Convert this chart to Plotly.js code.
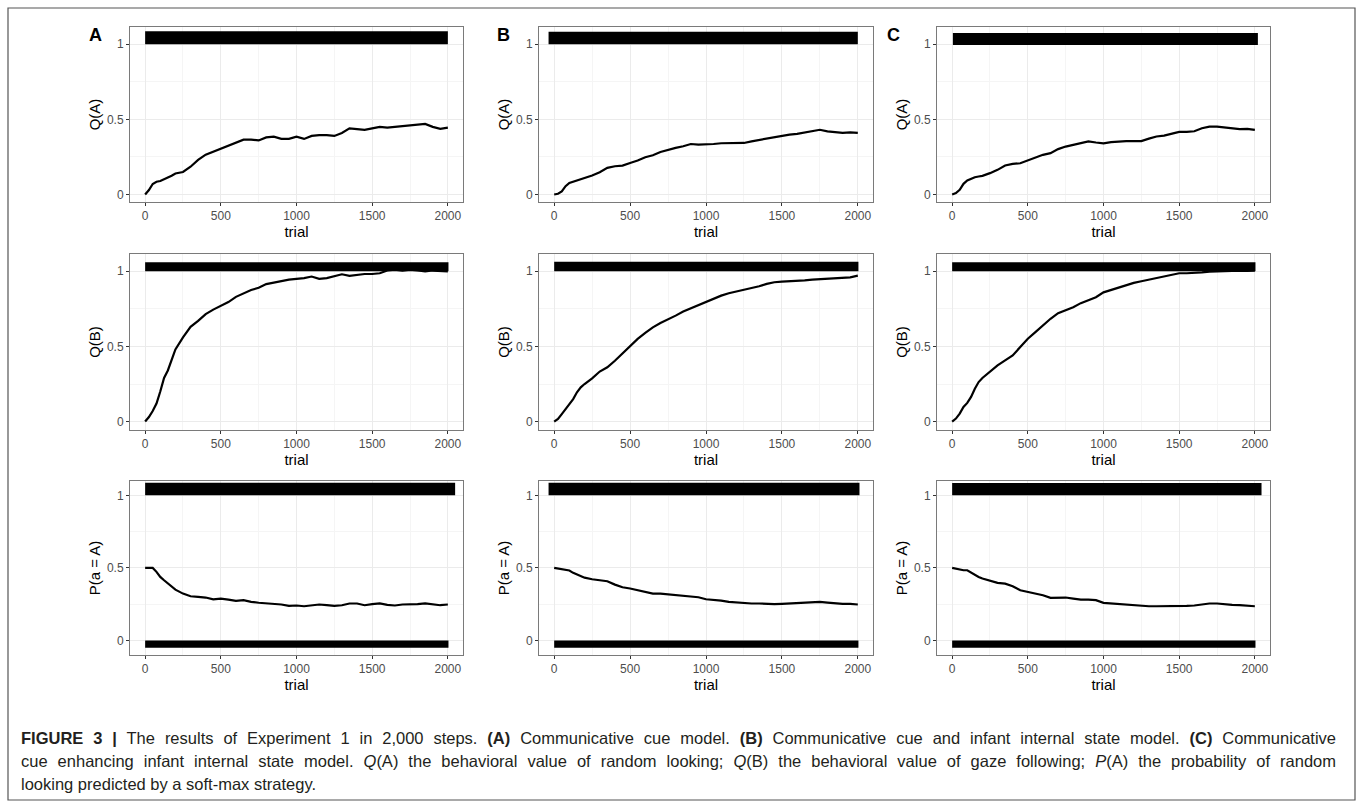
<!DOCTYPE html>
<html>
<head>
<meta charset="utf-8">
<script src="https://cdn.plot.ly/plotly-3.0.1.min.js"></script>
<style>html,body{margin:0;padding:0;background:#fff;}#chart{width:1357px;height:806px;}</style>
</head>
<body>
<div id="chart"></div>
<script>
// ---------------- DATA ----------------
const trials = [0,25,50,75,100,125,150,175,200,250,300,350,400,450,500,550,600,650,700,750,800,850,900,950,1000,1050,1100,1150,1200,1250,1300,1350,1400,1450,1500,1550,1600,1650,1700,1750,1800,1850,1900,1950,2000];

const xTickVals = [0,500,1000,1500,2000];
const panelLetters = ['A','B','C'];
const rowTitles = ['Q(A)','Q(B)','P(a = A)'];

// Model A (communicative cue model)
const qA_modelA = [0,0.03,0.07,0.085,0.09,0.1,0.11,0.125,0.14,0.15,0.185,0.23,0.265,0.285,0.31,0.33,0.35,0.365,0.365,0.36,0.38,0.385,0.37,0.37,0.385,0.37,0.39,0.395,0.395,0.39,0.41,0.44,0.435,0.43,0.44,0.45,0.445,0.45,0.455,0.46,0.468,0.47,0.45,0.437,0.445];
const qB_modelA = [0,0.03,0.07,0.12,0.2,0.29,0.34,0.41,0.48,0.56,0.63,0.67,0.715,0.745,0.77,0.795,0.83,0.855,0.875,0.89,0.915,0.925,0.935,0.945,0.95,0.955,0.965,0.95,0.955,0.965,0.98,0.97,0.978,0.982,0.982,0.987,1.005,1.01,1.005,1.01,1.005,1.0,1.005,1.0,1.0];
const pA_modelA = [0.5,0.5,0.5,0.473,0.438,0.415,0.392,0.37,0.35,0.323,0.305,0.3,0.296,0.284,0.289,0.282,0.273,0.278,0.266,0.26,0.255,0.255,0.248,0.238,0.241,0.236,0.243,0.248,0.243,0.238,0.243,0.255,0.255,0.243,0.25,0.255,0.245,0.241,0.248,0.248,0.25,0.255,0.248,0.243,0.248];

// Model B (communicative cue and infant internal state model)
const qA_modelB = [0,0.005,0.02,0.055,0.077,0.085,0.093,0.1,0.11,0.126,0.148,0.177,0.188,0.192,0.21,0.226,0.248,0.261,0.283,0.299,0.31,0.321,0.336,0.332,0.332,0.336,0.341,0.343,0.343,0.343,0.354,0.363,0.372,0.38,0.392,0.398,0.403,0.414,0.425,0.431,0.42,0.414,0.41,0.414,0.41];
const qB_modelB = [0,0.018,0.05,0.084,0.11,0.15,0.195,0.228,0.25,0.288,0.333,0.361,0.405,0.455,0.5,0.55,0.59,0.627,0.656,0.678,0.705,0.732,0.754,0.772,0.798,0.816,0.838,0.854,0.865,0.878,0.889,0.9,0.916,0.927,0.931,0.933,0.936,0.94,0.945,0.949,0.951,0.956,0.958,0.96,0.971];
const pA_modelB = [0.5,0.495,0.489,0.484,0.482,0.466,0.454,0.443,0.433,0.422,0.413,0.408,0.385,0.367,0.358,0.346,0.339,0.323,0.323,0.319,0.312,0.307,0.307,0.298,0.284,0.282,0.275,0.266,0.261,0.259,0.255,0.255,0.252,0.25,0.252,0.255,0.255,0.261,0.264,0.266,0.261,0.255,0.252,0.252,0.248];

// Model C (communicative cue enhancing infant internal state model)
const qA_modelC = [0,0.009,0.031,0.071,0.093,0.105,0.115,0.12,0.124,0.142,0.164,0.193,0.204,0.208,0.226,0.246,0.264,0.275,0.302,0.319,0.33,0.341,0.353,0.346,0.341,0.348,0.353,0.355,0.355,0.355,0.372,0.386,0.392,0.404,0.417,0.417,0.421,0.441,0.452,0.452,0.446,0.441,0.435,0.437,0.43];
const qB_modelC = [0,0.02,0.053,0.097,0.124,0.164,0.219,0.263,0.29,0.33,0.374,0.407,0.44,0.496,0.551,0.595,0.639,0.684,0.721,0.739,0.761,0.788,0.81,0.827,0.86,0.876,0.894,0.909,0.923,0.934,0.945,0.956,0.965,0.978,0.987,0.987,0.989,0.993,0.998,1.0,1.002,1.0,1.004,1.002,1.005];
const pA_modelC = [0.5,0.493,0.489,0.484,0.484,0.468,0.45,0.438,0.427,0.411,0.397,0.392,0.374,0.346,0.335,0.323,0.312,0.294,0.296,0.296,0.289,0.282,0.282,0.278,0.259,0.255,0.25,0.245,0.241,0.241,0.236,0.236,0.236,0.234,0.239,0.239,0.241,0.25,0.255,0.255,0.248,0.245,0.243,0.241,0.236];

// Dense per-trial outcome marks, drawn as solid bands: [first trial, last trial, low, high]
const marksQA_A = [0, 2000, 1.0, 1.087];
const marksQA_B = [-37, 2000, 1.0, 1.084];
const marksQA_C = [5, 2020, 0.995, 1.075];
const marksQB_A = [0, 2004, 1.0, 1.06];
const marksQB_B = [0, 2004, 1.0, 1.064];
const marksQB_C = [0, 2004, 1.0, 1.06];
const marksPtop_A = [0, 2048, 1.0, 1.087];
const marksPtop_B = [-37, 2011, 1.0, 1.087];
const marksPtop_C = [0, 2044, 1.0, 1.085];
const marksPbot_A = [0, 2004, -0.05, 0.0];
const marksPbot_B = [0, 2004, -0.05, 0.0];
const marksPbot_C = [0, 2004, -0.05, 0.0];

// ---------------- LAYOUT ----------------
const W = 1357, H = 806;
const colPx = [[130,463],[539,873],[937,1270]];
const rowPx = [[27,202],[254,430],[481,655]];
const yRanges = [[-0.05,1.115],[-0.056,1.115],[-0.1,1.099]];
const FONT = 'Liberation Sans, Arial, Helvetica, sans-serif';

const lines = [
  [qA_modelA, qA_modelB, qA_modelC],
  [qB_modelA, qB_modelB, qB_modelC],
  [pA_modelA, pA_modelB, pA_modelC]
];
const marks = [
  [[marksQA_A],[marksQA_B],[marksQA_C]],
  [[marksQB_A],[marksQB_B],[marksQB_C]],
  [[marksPtop_A, marksPbot_A],[marksPtop_B, marksPbot_B],[marksPtop_C, marksPbot_C]]
];

const traces = [];
const layout = {
  width: W, height: H,
  margin: {l:0, r:0, t:0, b:0},
  paper_bgcolor: '#ffffff',
  plot_bgcolor: '#ffffff',
  showlegend: false,
  font: {family: FONT, color: '#000'},
  annotations: [],
  shapes: []
};

for (let r = 0; r < 3; r++) {
  for (let c = 0; c < 3; c++) {
    const idx = r*3 + c + 1;
    const xa = 'x' + (idx === 1 ? '' : idx);
    const ya = 'y' + (idx === 1 ? '' : idx);
    traces.push({
      type: 'scatter', mode: 'lines', x: trials, y: lines[r][c],
      xaxis: xa, yaxis: ya,
      line: {color: '#000', width: 2.2}, hoverinfo: 'skip'
    });
    marks[r][c].forEach(m => {
      traces.push({
        type: 'scatter', mode: 'lines',
        x: [m[0], m[1], m[1], m[0], m[0]],
        y: [m[2], m[2], m[3], m[3], m[2]],
        fill: 'toself', fillcolor: '#000',
        line: {width: 0, color: '#000'},
        xaxis: xa, yaxis: ya, hoverinfo: 'skip'
      });
    });
    const axx = 'xaxis' + (idx === 1 ? '' : idx);
    const axy = 'yaxis' + (idx === 1 ? '' : idx);
    layout[axx] = {
      domain: [colPx[c][0]/W, colPx[c][1]/W],
      anchor: ya,
      range: [-100, 2100],
      tickmode: 'array', tickvals: xTickVals,
      ticks: 'outside', ticklen: 3, tickcolor: '#333', tickwidth: 1,
      tickfont: {size: 12, color: '#4d4d4d', family: FONT},
      showgrid: true, gridcolor: '#ebebeb', gridwidth: 1,
      minor: {tickvals: [250,750,1250,1750], showgrid: true, gridcolor: '#f5f5f5', gridwidth: 1},
      zeroline: false,
      showline: true, mirror: true, linecolor: '#7a7a7a', linewidth: 1,
      title: {text: 'trial', font: {size: 15, color: '#000', family: FONT}, standoff: 2},
      fixedrange: true
    };
    layout[axy] = {
      domain: [1 - rowPx[r][1]/H, 1 - rowPx[r][0]/H],
      anchor: xa,
      range: yRanges[r],
      tickmode: 'array', tickvals: [0, 0.5, 1], ticktext: ['0','0.5','1'],
      ticks: 'outside', ticklen: 3, tickcolor: '#333', tickwidth: 1,
      tickfont: {size: 12, color: '#4d4d4d', family: FONT},
      showgrid: true, gridcolor: '#ebebeb', gridwidth: 1,
      minor: {tickvals: [0.25, 0.75], showgrid: true, gridcolor: '#f5f5f5', gridwidth: 1},
      zeroline: false,
      showline: true, mirror: true, linecolor: '#7a7a7a', linewidth: 1,
      title: {text: rowTitles[r], font: {size: 15, color: '#000', family: FONT}, standoff: 2},
      fixedrange: true
    };
  }
}

// panel letters
const letterX = [95, 503, 893];
panelLetters.forEach((L, i) => {
  layout.annotations.push({
    xref: 'paper', yref: 'paper', x: letterX[i]/W, y: 1 - 35/H,
    xanchor: 'center', yanchor: 'middle', showarrow: false,
    text: '<b>' + L + '</b>', font: {size: 18, color: '#000', family: FONT}
  });
});

// caption (first two lines are justified to the full text width)
const captionLines = [
  '<b>FIGURE 3 |</b> The results of Experiment 1 in 2,000 steps. <b>(A)</b> Communicative cue model. <b>(B)</b> Communicative cue and infant internal state model. <b>(C)</b> Communicative',
  'cue enhancing infant internal state model. <i>Q</i>(A) the behavioral value of random looking; <i>Q</i>(B) the behavioral value of gaze following; <i>P</i>(A) the probability of random',
  'looking predicted by a soft-max strategy.'
];
const captionJustify = [true, true, false];
const captionY = [738, 761, 784];
const captionLeft = 21, captionRight = 1336;
const captionStart = layout.annotations.length;
captionLines.forEach((t, i) => {
  layout.annotations.push({
    xref: 'paper', yref: 'paper', x: (captionLeft - 2)/W, y: 1 - captionY[i]/H,
    xanchor: 'left', yanchor: 'middle', showarrow: false, align: 'left',
    text: t, font: {size: 16.5, color: '#231f20', family: FONT}
  });
});

// outer frame
layout.shapes.push({
  type: 'rect', xref: 'paper', yref: 'paper',
  x0: 8/W, x1: 1355/W, y0: 1 - 800/H, y1: 1 - 8/H,
  line: {color: '#555', width: 1.2}, fillcolor: 'rgba(0,0,0,0)', layer: 'below'
});

Plotly.newPlot('chart', traces, layout, {staticPlot: true, displayModeBar: false}).then(gd => {
  gd.querySelectorAll('g.annotation').forEach(g => {
    const i = +g.getAttribute('data-index') - captionStart;
    if (i < 0 || !captionJustify[i]) return;
    const t = g.querySelector('text.annotation-text');
    if (!t) return;
    const w = t.getComputedTextLength();
    const spaces = (t.textContent.match(/ /g) || []).length;
    const target = captionRight - captionLeft;
    if (spaces > 0) {
      t.style.wordSpacing = ((target - w) / spaces) + 'px';
    }
  });
});
</script>
</body>
</html>
